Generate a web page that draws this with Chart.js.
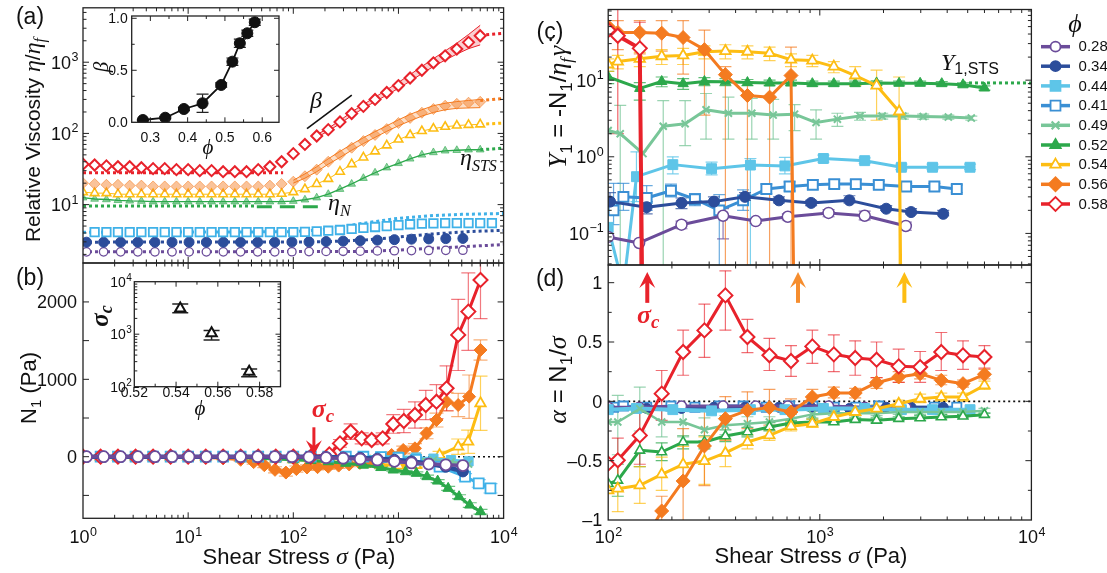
<!DOCTYPE html>
<html><head><meta charset="utf-8"><title>Viscosity and normal stress</title>
<script src="https://cdn.jsdelivr.net/npm/chart.js@4.4.1/dist/chart.umd.min.js"></script>
<style>
html,body{margin:0;padding:0;background:#fff;overflow:hidden;}
#wrap{position:relative;width:1107px;height:573px;background:#fff;}
#wrap canvas{position:absolute;left:0;top:0;}
</style></head>
<body><div id="wrap">
<canvas id="cA" width="1107" height="573"></canvas>
<canvas id="cIA" width="1107" height="573"></canvas>
<canvas id="cB" width="1107" height="573"></canvas>
<canvas id="cIB" width="1107" height="573"></canvas>
<canvas id="cC" width="1107" height="573"></canvas>
<canvas id="cD" width="1107" height="573"></canvas>
</div>
<script>
// ================= DATA =================
const phiLabels = ['0.28','0.34','0.44','0.41','0.49','0.52','0.54','0.56','0.58'];

// ---- Panel (a): relative viscosity vs shear stress ----
const stressA = [1,1.29,1.67,2.15,2.78,3.59,4.64,5.99,7.74,10,12.9,16.7,21.5,27.8,35.9,46.4,59.9,77.4,100,129,167,215,278,359,464,599,774,1000,1290,1670,2150,2780,3590,4640,5990,7740];
const etaA058 = [37,36,35,34,34,33,32,32,31,31,30,30,29,29,29,31,34,40,52,70,92,113,145,190,240,300,375,470,600,770,980,1230,1530,1900,2350];
const etaA056 = [20,19.5,19,19,18.5,18.5,18,18,18,18,18,18,18,18,18,18,18.5,19.5,21,25,31,40,50,63,78,95,115,140,165,195,220,245,260,270,278];
const etaA054 = [15,14.5,14.5,14,14,14,14,14,14,14,14,14,14,14,14,14,14,14.2,15,16.5,19.5,23,29,37,46,56,68,82,95,108,117,124,129,132,134];
const etaA052 = [12.5,12,11.8,11.5,11.3,11.2,11,11,11,11,11,11,11,11,11,11,11,11,11.2,11.7,12.5,14,16.5,19.5,23.5,28,33,38,44,50,54,57,58,59,59];
const etaA041 = [null,4.1,4.1,4.1,4.1,4.1,4.1,4.1,4.1,4.1,4.1,4.1,4.1,4.1,4.1,4.1,4.1,4.1,4.1,4.15,4.2,4.3,4.4,4.55,4.7,4.85,5.0,5.15,5.3,5.4,5.45,5.5,5.5,5.5,5.5,5.5];
const stressA6 = [1.08,1.57,2.28,3.32,4.83,7.03,10.2,14.9,21.6,31.5,45.8,66.6,97,141,205,298,433,630,915,1330,1940,2820,4100];
const etaA034 = [2.97,2.97,2.97,2.97,2.97,2.97,2.97,2.97,2.97,2.97,2.97,2.97,2.98,3.0,3.03,3.07,3.12,3.17,3.22,3.27,3.3,3.33,3.35];
const etaA028 = [2.17,2.17,2.17,2.17,2.17,2.17,2.17,2.17,2.17,2.17,2.17,2.17,2.18,2.19,2.2,2.21,2.22,2.24,2.25,2.26,2.27,2.28,2.29];
const bandX058 = [167,215,278,359,464,599,774,1000,1290,1670,2150,2780,3590,4640,5990];
const band058Lo = [88,108,137,178,225,280,345,430,540,690,870,1070,1300,1550,1750];
const band058Hi = [96,118,152,200,255,322,410,520,670,870,1120,1440,1850,2450,3300];
const bandX056 = [100,129,167,215,278,359,464,599,774,1000,1290,1670,2150,2780,3590,4640,5990];
const band056Lo = [20,23.5,29,37,46,58,72,88,107,128,150,175,197,215,225,228,230];
const band056Hi = [22,27,34,44,56,70,87,106,128,155,185,215,245,265,280,290,300];
const modelLowX058 = [1,80], modelLowY058 = [28,28];
const stsX = [5990,10000];
const stsY058 = [2400,2550], stsY056 = [290,310], stsY054 = [134,140], stsY052 = [59,62];
const modelLowX052 = [1,45], modelLowY052 = [9.6,9.6];
const etaNX = [45,193], etaNY = [9.3,9.3];
const modelX041 = [1,100,200,400,900,2000,4000,10000], modelY041 = [4.1,4.15,4.5,5.3,6.3,7.0,7.3,7.5];
const modelX034 = [1,200,500,1000,2000,5000,10000], modelY034 = [2.97,3.0,3.2,3.5,3.85,4.2,4.35];
const modelX028 = [1,500,1000,3000,10000], modelY028 = [2.17,2.2,2.3,2.5,2.75];
const betaSlopeX = [135,360], betaSlopeY = [117,346];
// inset (a): beta vs phi
const phiBeta = [0.28,0.34,0.39,0.44,0.49,0.52,0.54,0.56,0.58];
const betaVal = [0.022,0.044,0.128,0.183,0.359,0.583,0.76,0.856,0.962];
const betaErr = [0.005,0.01,0.015,0.087,0.02,0.035,0.04,0.03,0.03];

// ---- Panel (b): N1 vs shear stress ----
const gridB = [1,1.47,2.15,3.16,4.64,6.81,10,14.7,21.5,31.6,46.4,68.1,100,147,215,316,464,681,1000,1470,2150,3160,4640];
const N1b028 = [0,0,0,0,0,0,0,0,0,0,0,0,0,-5,-12,-20,-30,-42,-60,-80,-95,-105,-115];
const N1b034 = [0,0,0,0,0,0,0,0,0,0,0,0,0,0,-5,-10,-15,-25,-40,-60,-90,-130,-190];
const N1b044 = [0,0,0,0,0,0,0,0,0,0,0,0,0,0,0,0,0,0,0,-10,-25,-45,-60];
const N1b049 = [0,0,0,0,0,0,0,0,0,0,0,0,0,0,0,0,0,0,-10,-25,-45,-70,-95];
const xB041 = [1,1.47,2.15,3.16,4.64,6.81,10,14.7,21.5,31.6,46.4,68.1,100,147,215,316,464,681,1000,1470,2460,4300,5800,7500];
const N1b041 = [0,0,0,0,0,0,0,0,0,0,0,0,0,0,0,0,0,-5,-15,-40,-129,-258,-345,-409];
const errB041 = [0,0,0,0,0,0,0,0,0,0,0,0,0,0,0,0,0,0,15,20,30,40,50,60];
const xB052 = [1,1.47,2.15,3.16,4.64,6.81,10,14.7,21.5,31.6,46.4,68.1,100,147,215,316,464,681,893,1170,1480,1870,2360,2970,3770,4770,6030];
const N1b052 = [0,0,0,0,0,0,0,0,-5,-10,-20,-30,-40,-50,-65,-85,-110,-140,-172,-194,-215,-258,-315,-409,-517,-625,-711];
const errB052 = [0,0,0,0,0,0,0,0,0,0,0,0,0,0,10,10,15,15,15,15,20,20,20,25,25,30,30];
const xB054 = [1,1.47,2.15,3.16,4.64,6.81,10,14.7,21.5,31.6,46.4,68.1,100,147,215,316,464,681,1000,1470,2460,3700,4600,6030];
const N1b054 = [0,0,0,0,0,0,0,0,0,0,-10,-20,-35,-50,-65,-80,-95,-105,-115,-110,20,129,194,690];
const errB054 = [0,0,0,0,0,0,0,0,0,0,0,0,15,20,25,25,25,25,25,25,50,100,150,350];
const xB056 = [1,1.47,2.15,3.16,4.64,6.81,10,14.7,21.5,31.6,42,53,67,85,107,135,170,215,270,340,430,540,680,861,1110,1435,1850,2300,2870,3700,4700,6030];
const N1b056 = [0,0,0,0,0,0,0,-10,-20,-40,-70,-110,-170,-205,-160,-140,-135,-130,-115,-100,-80,-60,-35,22,87,108,302,474,711,668,776,1379];
const errB056 = [0,0,0,0,0,0,0,10,15,20,25,30,40,45,40,35,35,35,35,30,30,30,30,40,50,60,70,90,120,150,280,130];
const xB058 = [1,1.47,2.15,3.16,4.64,6.81,10,14.7,21.5,31.6,46.4,68.1,100,147,220,278,351,447,556,708,893,1125,1435,1820,2300,2870,3700,4620,6030];
const N1b058 = [0,0,0,0,0,0,0,0,0,0,0,0,0,0,30,172,323,237,216,237,423,461,539,668,711,884,1574,1875,2284];
const errB058 = [0,0,0,0,0,0,0,0,0,0,0,0,0,0,30,50,100,70,60,70,120,150,170,190,220,290,460,500,500];
const sigmaCArrowX = [157];
// inset (b): sigma_c vs phi
const phiSigC = [0.542,0.557,0.575];
const sigC = [3100,1040,193];
const sigCLo = [2570,775,155];
const sigCHi = [3760,1170,217];

// ---- Panel (c): Upsilon1 vs shear stress ----
const xC058 = [100,111,141,150], yC058 = [45,38,26,1e-6];
const loC058 = [null,2.0,1e-6,null], hiC058 = [null,90,57,null];
const xC056 = [100,111,141,179,226,285,358,455,579,731,790];
const yC056 = [50,42,42,41,36,25,11.8,6.3,6.0,11.5,1e-6];
const loC056 = [null,25,22,24,12,3.5,1e-6,1e-6,1e-6,1e-6,null];
const hiC056 = [null,60,60,60,60,45,15,9.5,9,27,null];
const xC054 = [100,111,141,179,226,285,358,455,579,731,922,1165,1470,1855,2370,2500];
const yC054 = [16,17.5,19,20.5,21,23.5,24,23.5,22.5,18.5,18,15,11.5,8.5,3.9,1e-6];
const loC054 = [13,14,15,16,16,19,19,19,18,15,15,12.5,8.5,3,1e-6,null];
const hiC054 = [19,21,23,25,26,28,29,28,27,22,21,17.5,15,13.5,11,null];
const xC052 = [100,141,179,226,285,358,455,579,731,922,1165,1470,1855,2370,2980,3770,4750,6000];
const yC052 = [11,7.8,9.6,9.0,9.6,9.5,9.3,9.2,9.2,9.0,9.0,9.0,9.2,9.1,9.1,9.0,8.7,7.9];
const loC052 = [9,5.5,8.2,7.6,8.5,8.5,8.5,8.5,8.5,8.4,8.4,8.4,8.6,8.6,8.6,8.5,8.2,7.4];
const hiC052 = [13,9.3,11,10.5,10.8,10.5,10.2,10,10,9.7,9.7,9.7,9.8,9.7,9.7,9.6,9.2,8.4];
const stsXC = [4750,10000], stsYC052 = [9.2,9.2];
const xC049 = [100,114,146,182,231,290,370,477,602,760,960,1211,1549,1972,2469,3080,4050,5200];
const yC049 = [2.2,2.0,1.1,2.5,2.7,4.1,3.7,3.7,3.5,3.6,2.8,3.1,3.4,3.4,3.4,3.35,3.3,3.2];
const loC049 = [null,1e-6,null,1e-6,1.4,1.7,1.7,1.7,1.7,2.2,1.7,2.5,3.0,3.1,3.1,3.1,3.1,3.0];
const hiC049 = [null,4.7,null,5.4,5.4,6.7,6.0,5.8,5.6,4.8,4.1,3.7,3.8,3.7,3.7,3.6,3.5,3.4];
const xC044 = [100,118,136,202,308,470,684,1040,1630,2430,3410,5130];
const yC044 = [0.12,0.02,0.55,0.79,0.70,0.78,0.76,0.95,0.89,0.73,0.73,0.73];
const loC044 = [null,null,0.26,0.6,0.58,1e-6,0.6,0.85,0.82,0.68,0.68,0.68];
const hiC044 = [null,null,1.16,1.0,0.85,0.95,0.98,1.05,0.97,0.8,0.8,0.8];
const xC041 = [106,118,152,198,257,335,434,559,720,927,1170,1480,1900,2560,3480,4440];
const yC041 = [0.2,0.30,0.29,0.36,0.28,0.20,0.27,0.38,0.41,0.43,0.44,0.44,0.43,0.41,0.41,0.38];
const loC041 = [0.13,0.2,0.2,0.3,0.23,1e-6,0.2,0.33,0.36,0.38,0.39,0.39,0.39,0.37,0.37,0.34];
const hiC041 = [0.45,0.45,0.42,0.44,0.33,0.32,0.37,0.44,0.47,0.5,0.5,0.5,0.48,0.45,0.45,0.43];
const xC034 = [102,152,222,316,443,641,910,1380,2060,2700,3830];
const yC034 = [0.26,0.22,0.25,0.26,0.30,0.27,0.25,0.27,0.21,0.19,0.18];
const loC034 = [0.18,0.18,0.21,0.23,0.27,0.25,0.23,0.25,0.2,0.18,0.17];
const hiC034 = [0.34,0.26,0.29,0.3,0.34,0.3,0.27,0.31,0.23,0.21,0.2];
const xC028 = [100,140,222,349,498,706,1100,1630,2550];
const yC028 = [0.09,0.075,0.13,0.17,0.145,0.165,0.185,0.17,0.125];
const loC028 = [null,null,0.115,0.085,0.135,0.15,0.165,0.15,0.11];
const hiC028 = [null,null,0.145,0.21,0.155,0.18,0.205,0.195,0.14];

// ---- Panel (d): alpha = N1/sigma ----
const xD = [100,111,141,179,226,285,358,455,578,731,922,1165,1470,1855,2360,2980,3750,4750,6000];
const yD058 = [-0.525,-0.497,-0.287,0.065,0.416,0.598,0.893,0.542,0.388,0.34,0.463,0.396,0.365,0.351,0.295,0.289,0.416,0.388,0.374];
const loD058 = [null,-0.75,-0.53,-0.16,0.22,0.37,0.6,0.41,0.26,0.21,0.32,0.25,0.22,0.2,0.16,0.16,0.26,0.27,0.28];
const hiD058 = [null,-0.31,-0.05,0.26,0.6,0.82,1.1,0.69,0.53,0.47,0.6,0.56,0.51,0.5,0.44,0.42,0.58,0.51,0.47];
const xD056 = [141,179,226,285,358,455,578,731,922,1165,1470,1855,2360,2980,3750,4750,6000];
const yD056 = [-1.25,-0.924,-0.671,-0.376,-0.146,-0.076,-0.053,-0.09,0.037,0.07,0.07,0.157,0.205,0.233,0.177,0.149,0.228];
const loD056 = [null,-1.05,-1.2,-0.71,-0.33,-0.23,-0.2,-0.2,-0.02,0.03,0.03,0.11,0.16,0.19,0.14,0.12,0.19];
const hiD056 = [null,-0.8,-0.23,-0.05,0.04,0.08,0.1,0.02,0.1,0.12,0.11,0.2,0.25,0.27,0.22,0.18,0.27];
const yD054 = [-0.75,-0.736,-0.708,-0.615,-0.531,-0.503,-0.435,-0.343,-0.287,-0.211,-0.188,-0.132,-0.09,-0.062,-0.02,0.022,0.037,0.037,0.135];
const loD054 = [null,-0.93,-0.86,-0.75,-0.68,-0.7,-0.55,-0.4,-0.33,-0.25,-0.22,-0.16,-0.12,-0.09,-0.05,-0.01,0.0,0.0,0.1];
const hiD054 = [null,-0.5,-0.55,-0.47,-0.38,-0.3,-0.32,-0.28,-0.24,-0.17,-0.15,-0.1,-0.06,-0.03,0.01,0.06,0.07,0.07,0.17];
const yD052 = [-0.694,-0.666,-0.413,-0.427,-0.343,-0.343,-0.292,-0.258,-0.216,-0.183,-0.174,-0.174,-0.154,-0.16,-0.146,-0.14,-0.132,-0.126,-0.112];
const loD052 = [null,-0.8,-0.55,-0.5,-0.4,-0.4,-0.34,-0.3,-0.25,-0.21,-0.2,-0.19,-0.17,-0.18,-0.16,-0.16,-0.15,-0.14,-0.13];
const hiD052 = [null,-0.53,-0.28,-0.35,-0.29,-0.29,-0.24,-0.22,-0.18,-0.16,-0.15,-0.16,-0.14,-0.14,-0.13,-0.12,-0.11,-0.11,-0.1];
const yD049 = [-0.174,-0.174,-0.062,-0.174,-0.174,-0.239,-0.202,-0.188,-0.174,-0.146,-0.11,-0.1,-0.1,-0.1,-0.09,-0.09,-0.09,-0.09,-0.08];
const loD049 = [null,-0.45,-0.25,-0.3,-0.3,-0.33,-0.28,-0.25,-0.22,-0.18,-0.14,-0.12,-0.12,-0.12,-0.11,-0.11,-0.11,-0.11,-0.1];
const hiD049 = [null,0.05,0.12,-0.05,-0.05,-0.14,-0.12,-0.13,-0.13,-0.11,-0.08,-0.08,-0.08,-0.08,-0.07,-0.07,-0.07,-0.07,-0.06];
const yD044 = [-0.07,-0.06,-0.07,-0.08,-0.07,-0.07,-0.06,-0.06,-0.07,-0.07,-0.07];
const xD044 = [100,136,202,308,470,684,1040,1630,2430,3410,5130];
const yD041 = [-0.05,-0.04,-0.05,-0.04,-0.05,-0.04,-0.04,-0.05,-0.04,-0.04,-0.05,-0.05,-0.04,-0.05,-0.05,-0.05];
const yD034 = [-0.06,-0.06,-0.06,-0.05,-0.05,-0.05,-0.05,-0.06,-0.05,-0.05,-0.05];
const yD028 = [-0.05,-0.05,-0.04,-0.04,-0.04,-0.04,-0.04,-0.05,-0.05];
const sigmaCMarksX = [153,789,2510];

// ================= STYLE / HELPERS =================
const W = 1107, H = 573;
const SANS = '"Liberation Sans", Arial, Helvetica, sans-serif';
const SERIF = '"Liberation Serif", "DejaVu Serif", "Times New Roman", Times, serif';
const PHI = '\u03d5';
const F = (sz, fam, st) => ((st ? st + ' ' : '') + sz + 'px ' + (fam || SANS));
const COL = {p028:'#6b4c9a', p034:'#2c4d9b', p044:'#5ec5e8', p041:'#3a8fd4', p049:'#78c698',
  p052:'#2ca84b', p054:'#fdbd13', p056:'#f47b20', p058:'#e8222b', a041:'#3fb1e8', arrowO:'#f68d2e'};
function rgba(hex, a){ const n = parseInt(hex.slice(1),16); return 'rgba('+(n>>16)+','+((n>>8)&255)+','+(n&255)+','+a+')'; }
function lin(c,x1,y1,x2,y2){ c.beginPath(); c.moveTo(x1,y1); c.lineTo(x2,y2); c.stroke(); }
function logMinors(lo, hi){ const out=[]; for(let d=Math.floor(Math.log10(lo)); d<=Math.ceil(Math.log10(hi)); d++){ for(let k=2;k<=9;k++){ const v=k*Math.pow(10,d); if(v>lo && v<hi) out.push(v);} } return out; }
function pts(xs, ys){ const o=[]; const n=Math.min(xs.length, ys.length); for(let i=0;i<n;i++){ if(ys[i]!==null) o.push({x:xs[i], y:ys[i]}); } return o; }
function S(xs, ys, o){
  const d = {data: pts(xs, ys), showLine: o.line !== false, tension: 0,
    borderColor: o.lc || o.c, borderWidth: (o.lw == null ? 3 : o.lw), borderDash: o.dash || [],
    borderCapStyle: 'butt', borderJoinStyle: 'round',
    pointStyle: o.ps || 'circle', pointRadius: (o.r == null ? 0 : o.r),
    pointBackgroundColor: o.open ? '#ffffff' : (o.fc || o.c),
    pointBorderColor: o.pc || o.c, pointBorderWidth: (o.bw == null ? 1.5 : o.bw),
    fill: (o.fill == null ? false : o.fill), backgroundColor: o.bg || 'rgba(0,0,0,0)'};
  if (o.eb) d.eb = Object.assign({xs: xs, ys: ys}, o.eb);
  return d;
}
function drawLabel(ctx, lab, x, ym, align, fs, ss){
  const base = typeof lab === 'string' ? lab : lab.b;
  const exp = typeof lab === 'string' ? '' : lab.e;
  ctx.font = F(fs); const wb = ctx.measureText(base).width;
  ctx.font = F(ss); const we = exp ? ctx.measureText(exp).width : 0;
  const tw = wb + we;
  const sx = align === 'center' ? x - tw/2 : (align === 'right' ? x - tw : x);
  const bl = ym + fs * 0.36;
  ctx.textAlign = 'left'; ctx.textBaseline = 'alphabetic';
  ctx.font = F(fs); ctx.fillText(base, sx, bl);
  if (exp) { ctx.font = F(ss); ctx.fillText(exp, sx + wb + 0.5, bl - fs * 0.42); }
}
function rich(ctx, segs, x, y, opt){
  opt = opt || {};
  ctx.save(); ctx.translate(x, y); if (opt.rot) ctx.rotate(opt.rot);
  let tw = 0; const ws = [];
  segs.forEach(s => { ctx.font = s.f; const w = ctx.measureText(s.t).width + (s.sp || 0); ws.push(w); tw += w; });
  let cx = opt.align === 'left' ? 0 : (opt.align === 'right' ? -tw : -tw/2);
  ctx.textAlign = 'left'; ctx.textBaseline = 'alphabetic';
  segs.forEach((s, i) => { ctx.font = s.f; ctx.fillStyle = s.c || opt.color || '#111'; ctx.fillText(s.t, cx, (opt.base || 0) + (s.dy || 0)); cx += ws[i]; });
  ctx.restore();
}
function arrowV(ctx, x, yTail, yHead, color, lw, hl, hw){
  const dir = Math.sign(yHead - yTail);
  ctx.save(); ctx.strokeStyle = color; ctx.fillStyle = color; ctx.lineWidth = lw;
  lin(ctx, x, yTail, x, yHead - dir * hl * 0.5);
  ctx.beginPath(); ctx.moveTo(x, yHead); ctx.lineTo(x - hw, yHead - dir * hl);
  ctx.lineTo(x, yHead - dir * hl * 0.6); ctx.lineTo(x + hw, yHead - dir * hl); ctx.closePath(); ctx.fill();
  ctx.restore();
}

const errPlugin = {
  id: 'errbars',
  beforeDatasetsDraw(chart){
    const ctx = chart.ctx, a = chart.chartArea, sx = chart.scales.x, sy = chart.scales.y;
    ctx.save();
    ctx.beginPath(); ctx.rect(a.left, a.top, a.right - a.left, a.bottom - a.top); ctx.clip();
    chart.data.datasets.forEach(ds => {
      const e = ds.eb; if (!e) return;
      ctx.strokeStyle = e.color; ctx.lineWidth = e.w || 1.2;
      for (let i = 0; i < e.xs.length; i++){
        let l, h;
        if (e.err){ if (!e.err[i]) continue; l = e.ys[i] - e.err[i]; h = e.ys[i] + e.err[i]; }
        else { if (e.lo[i] == null) continue; l = e.lo[i]; h = e.hi[i]; }
        const px = sx.getPixelForValue(e.xs[i]);
        const pl = sy.getPixelForValue(l), ph = sy.getPixelForValue(h);
        lin(ctx, px, pl, px, ph);
        const cw = e.cap == null ? 6 : e.cap;
        if (cw > 0){ lin(ctx, px - cw, pl, px + cw, pl); lin(ctx, px - cw, ph, px + cw, ph); }
      }
    });
    ctx.restore();
  }
};

function frameAxes(conf){
  return {
    id: 'frameAxes',
    beforeDraw(chart){
      if (conf.bg){ const a = chart.chartArea, c = chart.ctx; c.save(); c.fillStyle = '#fff'; c.fillRect(a.left, a.top, a.right - a.left, a.bottom - a.top); c.restore(); }
    },
    afterDraw(chart){
      const ctx = chart.ctx, a = chart.chartArea, xs = chart.scales.x, ys = chart.scales.y;
      ctx.save();
      ctx.strokeStyle = '#222'; ctx.lineWidth = conf.frameW || 1.3;
      ctx.strokeRect(a.left, a.top, a.right - a.left, a.bottom - a.top);
      const ML = conf.majorLen || 6, mL = conf.minorLen || 3.5;
      ctx.lineWidth = 1;
      const inX = v => v > xs.min && v < xs.max, inY = v => v > ys.min && v < ys.max;
      (conf.x.major || []).forEach(v => { if (!inX(v)) return; const p = xs.getPixelForValue(v); lin(ctx,p,a.bottom,p,a.bottom-ML); lin(ctx,p,a.top,p,a.top+ML); });
      (conf.x.minor || []).forEach(v => { if (!inX(v)) return; const p = xs.getPixelForValue(v); lin(ctx,p,a.bottom,p,a.bottom-mL); lin(ctx,p,a.top,p,a.top+mL); });
      (conf.y.major || []).forEach(v => { if (!inY(v)) return; const p = ys.getPixelForValue(v); lin(ctx,a.left,p,a.left+ML,p); lin(ctx,a.right,p,a.right-ML,p); });
      (conf.y.minor || []).forEach(v => { if (!inY(v)) return; const p = ys.getPixelForValue(v); lin(ctx,a.left,p,a.left+mL,p); lin(ctx,a.right,p,a.right-mL,p); });
      ctx.fillStyle = '#111';
      const fs = conf.font || 18, ss = conf.sup || 12.5;
      (conf.x.labels || []).forEach(l => drawLabel(ctx, l[1], xs.getPixelForValue(l[0]), conf.x.labelY, 'center', fs, ss));
      (conf.y.labels || []).forEach(l => drawLabel(ctx, l[1], a.left - (conf.y.gap || 5), ys.getPixelForValue(l[0]), 'right', fs, ss));
      ctx.restore();
      if (conf.over){ ctx.save(); conf.over(chart, ctx); ctx.restore(); }
    }
  };
}

function mk(id, area, sx, sy, datasets, conf){
  datasets.forEach((d, i) => { d.order = datasets.length - i; });
  return new Chart(document.getElementById(id), {
    type: 'scatter',
    data: {datasets: datasets},
    options: {
      responsive: false, animation: false, devicePixelRatio: 1, events: [],
      layout: {padding: {left: area.l, top: area.t, right: W - area.r, bottom: H - area.b}},
      plugins: {legend: {display: false}, tooltip: {enabled: false}},
      scales: {x: Object.assign({display: false}, sx), y: Object.assign({display: false}, sy)}
    },
    plugins: [errPlugin, frameAxes(conf)]
  });
}
const L10 = e => ({b: '10', e: e});
const xLogA = {type: 'logarithmic', min: 1, max: 10000};
const xLogC = {type: 'logarithmic', min: 100, max: 10000};

// ================= PANEL (a) =================
const yLogA = {type: 'logarithmic', min: 1.514, max: 5808};
mk('cA', {l: 83, r: 503.6, t: 5, b: 263}, xLogA, yLogA, [
  S(bandX058, band058Lo, {c: COL.p058, lw: 1}),
  S(bandX058, band058Hi, {c: COL.p058, lw: 1, fill: '-1', bg: rgba(COL.p058, 0.22)}),
  S(bandX056, band056Lo, {c: COL.p056, lw: 1}),
  S(bandX056, band056Hi, {c: COL.p056, lw: 1, fill: '-1', bg: rgba(COL.p056, 0.25)}),
  S(modelX041, modelY041, {c: COL.a041, lw: 3, dash: [3, 3]}),
  S(modelX034, modelY034, {c: COL.p034, lw: 3, dash: [3, 3]}),
  S(modelX028, modelY028, {c: COL.p028, lw: 3, dash: [3, 3]}),
  S(modelLowX058, modelLowY058, {c: COL.p058, lw: 3, dash: [3, 3]}),
  S(modelLowX052, modelLowY052, {c: COL.p052, lw: 3, dash: [3, 3]}),
  S(stsX, stsY058, {c: COL.p058, lw: 3, dash: [3, 3]}),
  S(stsX, stsY056, {c: COL.p056, lw: 3, dash: [3, 3]}),
  S(stsX, stsY054, {c: COL.p054, lw: 3, dash: [3, 3]}),
  S(stsX, stsY052, {c: COL.p052, lw: 3, dash: [3, 3]}),
  S(etaNX, etaNY, {c: COL.p052, lw: 3, dash: [15, 8]}),
  S(betaSlopeX, betaSlopeY, {c: '#111', lw: 1.6}),
  S(stressA6, etaA028, {c: COL.p028, line: false, ps: 'circle', r: 4.2, open: true, bw: 1.3}),
  S(stressA6, etaA034, {c: COL.p034, line: false, ps: 'circle', r: 5, bw: 1}),
  S(stressA, etaA041, {c: COL.a041, line: false, ps: 'rect', r: 6, open: true, bw: 1.8}),
  S(stressA, etaA052, {c: COL.p052, lc: COL.p052, lw: 1.3, ps: 'triangle', r: 4.5, fc: rgba(COL.p052, 0.5), pc: rgba(COL.p052, 0.6), bw: 1}),
  S(stressA, etaA054, {c: COL.p054, lw: 1, ps: 'triangle', r: 5, open: true, bw: 1.6}),
  S(stressA, etaA056, {c: COL.p056, line: false, ps: 'rectRot', r: 5.5, fc: rgba(COL.p056, 0.45), pc: rgba(COL.p056, 0.55), bw: 1}),
  S(stressA, etaA058, {c: COL.p058, line: false, ps: 'rectRot', r: 5.5, open: true, bw: 2})
], {
  x: {major: [1, 10, 100, 1000, 10000], minor: logMinors(1, 10000)},
  y: {major: [10, 100, 1000], minor: logMinors(1.514, 5808), labels: [[10, L10('1')], [100, L10('2')], [1000, L10('3')]], gap: 5},
  over(chart, ctx){
    ctx.fillStyle = '#111';
    rich(ctx, [{t: '(a)', f: F(23)}], 30, 24, {});
    rich(ctx, [{t: 'Relative Viscosity ', f: F(21)}, {t: '\u03b7', f: F(24, SERIF, 'italic')}, {t: '/', f: F(21)}, {t: '\u03b7', f: F(24, SERIF, 'italic')}, {t: 'f', f: F(16, SERIF, 'italic'), dy: 5}], 32, 140, {rot: -Math.PI/2, base: 7.5});
    rich(ctx, [{t: '\u03b2', f: F(24, SERIF, 'italic')}], 316, 108, {});
    rich(ctx, [{t: '\u03b7', f: F(24, SERIF, 'italic')}, {t: 'N', f: F(16, SERIF, 'italic'), dy: 6}], 328, 210, {align: 'left'});
    rich(ctx, [{t: '\u03b7', f: F(24, SERIF, 'italic')}, {t: 'STS', f: F(16, SERIF, 'italic'), dy: 6}], 460, 165, {align: 'left'});
  }
});

// ---- inset (a) ----
mk('cIA', {l: 131.7, r: 279, t: 16, b: 122.3}, {type: 'linear', min: 0.25, max: 0.645}, {type: 'linear', min: 0, max: 1.022}, [
  S(phiBeta, betaVal, {c: '#111', lw: 1.8, ps: 'circle', r: 5.5, bw: 1, eb: {err: betaErr, color: '#222', w: 1.2, cap: 6}})
], {
  bg: true, font: 14, majorLen: 5, minorLen: 3,
  x: {major: [0.3, 0.4, 0.5, 0.6], minor: [0.35, 0.45, 0.55], labels: [[0.3, '0.3'], [0.4, '0.4'], [0.5, '0.5'], [0.6, '0.6']], labelY: 137},
  y: {major: [0, 0.5, 1.0], minor: [0.25, 0.75], labels: [[0, '0.0'], [0.5, '0.5'], [1.0, '1.0']], gap: 4},
  over(chart, ctx){
    rich(ctx, [{t: '\u03b2', f: F(21, SERIF, 'italic')}], 101, 67, {rot: -Math.PI/2, base: 7});
    rich(ctx, [{t: PHI, f: F(21, SERIF, 'italic')}], 208, 154, {});
  }
});

// ================= PANEL (b) =================
mk('cB', {l: 83, r: 503.6, t: 263, b: 518.3}, xLogA, {type: 'linear', min: -796, max: 2503}, [
  S([1, 10000], [0, 0], {c: '#111', lw: 1.6, dash: [2, 3]}),
  S(xB054, N1b054, {c: COL.p054, lw: 3, ps: 'triangle', r: 6, open: true, bw: 1.8, eb: {err: errB054, color: rgba(COL.p054, 0.7), cap: 7}}),
  S(xB056, N1b056, {c: COL.p056, lw: 3, ps: 'rectRot', r: 6.5, bw: 1, eb: {err: errB056, color: rgba(COL.p056, 0.6), cap: 7}}),
  S(xB052, N1b052, {c: COL.p052, lw: 3, ps: 'triangle', r: 6, bw: 1, eb: {err: errB052, color: rgba(COL.p052, 0.7), cap: 7}}),
  S(gridB, N1b044, {c: COL.p044, lw: 3, ps: 'rect', r: 6.5, bw: 1}),
  S(gridB, N1b049, {c: COL.p049, lw: 3, ps: 'crossRot', r: 5, bw: 2}),
  S(xB041, N1b041, {c: COL.a041, lw: 3, ps: 'rect', r: 7, open: true, bw: 1.8, eb: {err: errB041, color: rgba(COL.a041, 0.7), cap: 7}}),
  S(xB058, N1b058, {c: COL.p058, lw: 3, ps: 'rectRot', r: 7, open: true, bw: 2, eb: {err: errB058, color: rgba(COL.p058, 0.6), cap: 7}}),
  S(stressA6, N1b034, {c: COL.p034, lw: 4.5, ps: 'circle', r: 5.5, bw: 1}),
  S(stressA6, N1b028, {c: COL.p028, lw: 3.5, ps: 'circle', r: 5.5, open: true, bw: 1.8})
], {
  x: {major: [1, 10, 100, 1000, 10000], minor: logMinors(1, 10000), labels: [[1, L10('0')], [10, L10('1')], [100, L10('2')], [1000, L10('3')], [10000, L10('4')]], labelY: 537},
  y: {major: [-500, 0, 500, 1000, 1500, 2000], labels: [[0, '0'], [1000, '1000'], [2000, '2000']], gap: 6},
  over(chart, ctx){
    rich(ctx, [{t: '(b)', f: F(23)}], 30, 285, {});
    rich(ctx, [{t: 'N', f: F(22)}, {t: '1', f: F(15), dy: 5}, {t: ' (Pa)', f: F(22)}], 28, 388, {rot: -Math.PI/2, base: 8});
    rich(ctx, [{t: 'Shear Stress ', f: F(22)}, {t: '\u03c3', f: F(24, SERIF, 'italic')}, {t: ' (Pa)', f: F(22)}], 299, 564, {});
    const xs = chart.scales.x, ys = chart.scales.y;
    const ax = xs.getPixelForValue(sigmaCArrowX[0]);
    arrowV(ctx, ax, ys.getPixelForValue(380), ys.getPixelForValue(20), COL.p058, 3, 15, 8);
    rich(ctx, [{t: '\u03c3', f: F(26, SERIF, 'bold italic'), c: COL.p058}, {t: 'c', f: F(19, SERIF, 'bold italic'), dy: 5, c: COL.p058}], ax + 9, 417, {});
  }
});

// ---- inset (b) ----
mk('cIB', {l: 134.3, r: 280.5, t: 281.7, b: 386.7}, {type: 'linear', min: 0.52, max: 0.59}, {type: 'logarithmic', min: 100, max: 10000}, [
  S(phiSigC, sigC, {c: '#111', line: false, ps: 'triangle', r: 6, open: true, bw: 2, eb: {lo: sigCLo, hi: sigCHi, color: '#222', w: 1.5, cap: 8}})
], {
  bg: true, font: 14, sup: 10, majorLen: 5, minorLen: 3,
  x: {major: [0.52, 0.54, 0.56, 0.58], minor: [0.53, 0.55, 0.57], labels: [[0.52, '0.52'], [0.54, '0.54'], [0.56, '0.56'], [0.58, '0.58']], labelY: 392},
  y: {major: [100, 1000, 10000], minor: logMinors(100, 10000), labels: [[100, L10('2')], [1000, L10('3')], [10000, L10('4')]], gap: 3},
  over(chart, ctx){
    rich(ctx, [{t: '\u03c3', f: F(25, SERIF, 'bold italic')}, {t: 'c', f: F(18, SERIF, 'bold italic'), dy: 4}], 101, 316, {rot: -Math.PI/2, base: 7});
    rich(ctx, [{t: PHI, f: F(21, SERIF, 'italic')}], 200, 415, {});
  }
});

// ================= PANEL (c) =================
const yLogC = {type: 'logarithmic', min: 0.0387, max: 83.6};
const legendRows = [
  {c: COL.p028, ps: 'circle', r: 5, open: true},
  {c: COL.p034, ps: 'circle', r: 5},
  {c: COL.p044, ps: 'rect', r: 7},
  {c: COL.p041, ps: 'rect', r: 7, open: true},
  {c: COL.p049, ps: 'crossRot', r: 5.5},
  {c: COL.p052, ps: 'triangle', r: 6},
  {c: COL.p054, ps: 'triangle', r: 6, open: true},
  {c: COL.p056, ps: 'rectRot', r: 7},
  {c: COL.p058, ps: 'rectRot', r: 7, open: true}
];
mk('cC', {l: 608.2, r: 1031.4, t: 9.5, b: 265}, xLogC, yLogC, [
  S(stsXC, stsYC052, {c: COL.p052, lw: 3, dash: [3, 3]}),
  S(xC049, yC049, {c: COL.p049, lw: 3, ps: 'crossRot', r: 5, bw: 2, eb: {lo: loC049, hi: hiC049, color: rgba(COL.p049, 0.75)}}),
  S(xC044, yC044, {c: COL.p044, lw: 3, ps: 'rect', r: 7, bw: 1, eb: {lo: loC044, hi: hiC044, color: rgba(COL.p044, 0.8)}}),
  S(xC041, yC041, {c: COL.p041, lw: 3, ps: 'rect', r: 7, open: true, bw: 2, eb: {lo: loC041, hi: hiC041, color: rgba(COL.p041, 0.75)}}),
  S(xC034, yC034, {c: COL.p034, lw: 3, ps: 'circle', r: 5.5, bw: 1, eb: {lo: loC034, hi: hiC034, color: rgba(COL.p034, 0.75)}}),
  S(xC028, yC028, {c: COL.p028, lw: 3, ps: 'circle', r: 5.5, open: true, bw: 1.5, eb: {lo: loC028, hi: hiC028, color: rgba(COL.p028, 0.75)}}),
  S(xC052, yC052, {c: COL.p052, lw: 3, ps: 'triangle', r: 6, bw: 1, eb: {lo: loC052, hi: hiC052, color: rgba(COL.p052, 0.75)}}),
  S(xC054, yC054, {c: COL.p054, lw: 3, ps: 'triangle', r: 6, open: true, bw: 1.8, eb: {lo: loC054, hi: hiC054, color: rgba(COL.p054, 0.7)}}),
  S(xC056, yC056, {c: COL.p056, lw: 3, ps: 'rectRot', r: 7, bw: 1, eb: {lo: loC056, hi: hiC056, color: rgba(COL.p056, 0.7)}}),
  S(xC058, yC058, {c: COL.p058, lw: 4, ps: 'rectRot', r: 7, open: true, bw: 2, eb: {lo: loC058, hi: hiC058, color: rgba(COL.p058, 0.7)}})
], {
  x: {major: [100, 1000, 10000], minor: logMinors(100, 10000)},
  y: {major: [0.1, 1, 10], minor: logMinors(0.0387, 83.6), labels: [[0.1, L10('\u22121')], [1, L10('0')], [10, L10('1')]], gap: 5},
  over(chart, ctx){
    rich(ctx, [{t: '(c)', f: F(23)}], 550, 39, {});
    rich(ctx, [{t: '\u03a5', f: F(26, SERIF, 'italic')}, {t: '1', f: F(17), dy: 6}, {t: ' = -N', f: F(24)}, {t: '1', f: F(17), dy: 6},
      {t: '/', f: F(24)}, {t: '\u03b7', f: F(26, SERIF, 'italic')}, {t: 'f', f: F(17, SERIF, 'italic'), dy: 6, sp: 2}, {t: '\u03b3\u0307', f: F(26, SERIF, 'italic')}],
      557, 107, {rot: -Math.PI/2, base: 8.5});
    rich(ctx, [{t: '\u03a5', f: F(24, SERIF, 'italic')}, {t: '1,STS', f: F(16), dy: 4}], 941, 70, {align: 'left'});
    // legend
    rich(ctx, [{t: PHI, f: F(26, SERIF, 'italic')}], 1075, 32, {});
    const rowsY = [46.7, 66.2, 85.9, 105.6, 125.3, 145, 164.6, 184.3, 204];
    legendRows.forEach((r, i) => {
      const y = rowsY[i];
      ctx.strokeStyle = r.c; ctx.lineWidth = 3.5; lin(ctx, 1041, y, 1070, y);
      ctx.fillStyle = r.open ? '#fff' : r.c; ctx.strokeStyle = r.c; ctx.lineWidth = r.ps === 'crossRot' ? 2.2 : 1.8;
      Chart.helpers.drawPoint(ctx, {pointStyle: r.ps, radius: r.r, rotation: 0, borderWidth: ctx.lineWidth}, 1055.5, y);
      ctx.fillStyle = '#111'; ctx.font = F(15); ctx.textAlign = 'left'; ctx.textBaseline = 'middle';
      ctx.fillText(phiLabels[i], 1078.6, y + 0.5);
    });
  }
});

// ================= PANEL (d) =================
mk('cD', {l: 608.2, r: 1031.4, t: 265, b: 520}, xLogC, {type: 'linear', min: -1, max: 1.149}, [
  S([100, 10000], [0, 0], {c: '#111', lw: 1.6, dash: [2, 3]}),
  S(xC041, yD041, {c: COL.p041, lw: 3, ps: 'rect', r: 6.5, open: true, bw: 1.8}),
  S(xC034, yD034, {c: COL.p034, lw: 3, ps: 'circle', r: 5, bw: 1}),
  S(xC028, yD028, {c: COL.p028, lw: 3, ps: 'circle', r: 5, open: true, bw: 1.5}),
  S(xD044, yD044, {c: COL.p044, lw: 4, ps: 'rect', r: 7, bw: 1}),
  S(xD, yD049, {c: COL.p049, lw: 2.5, ps: 'crossRot', r: 5, bw: 2, eb: {lo: loD049, hi: hiD049, color: rgba(COL.p049, 0.75)}}),
  S(xD, yD052, {c: COL.p052, lw: 3, ps: 'triangle', r: 5.5, open: true, bw: 1.6, eb: {lo: loD052, hi: hiD052, color: rgba(COL.p052, 0.75)}}),
  S(xD, yD054, {c: COL.p054, lw: 3, ps: 'triangle', r: 6, open: true, bw: 1.8, eb: {lo: loD054, hi: hiD054, color: rgba(COL.p054, 0.7)}}),
  S(xD056, yD056, {c: COL.p056, lw: 3, ps: 'rectRot', r: 7, bw: 1, eb: {lo: loD056, hi: hiD056, color: rgba(COL.p056, 0.7)}}),
  S(xD, yD058, {c: COL.p058, lw: 3, ps: 'rectRot', r: 7, open: true, bw: 2, eb: {lo: loD058, hi: hiD058, color: rgba(COL.p058, 0.65)}})
], {
  x: {major: [100, 1000, 10000], minor: logMinors(100, 10000), labels: [[100, L10('2')], [1000, L10('3')], [10000, L10('4')]], labelY: 537},
  y: {major: [-1, -0.5, 0, 0.5, 1], minor: [-0.75, -0.25, 0.25, 0.75], labels: [[1, '1'], [0.5, '0.5'], [0, '0'], [-0.5, '\u20130.5'], [-1, '\u20131']], gap: 6},
  over(chart, ctx){
    rich(ctx, [{t: '(d)', f: F(23)}], 550, 286, {});
    rich(ctx, [{t: '\u03b1', f: F(26, SERIF, 'italic')}, {t: ' = N', f: F(24)}, {t: '1', f: F(17), dy: 6}, {t: '/', f: F(24)}, {t: '\u03c3', f: F(26, SERIF, 'italic')}],
      557, 380, {rot: -Math.PI/2, base: 8.5});
    rich(ctx, [{t: 'Shear Stress ', f: F(22)}, {t: '\u03c3', f: F(24, SERIF, 'italic')}, {t: ' (Pa)', f: F(22)}], 811, 563, {});
    const xs = chart.scales.x, ys = chart.scales.y;
    const cols = [COL.p058, COL.arrowO, COL.p054];
    sigmaCMarksX.forEach((v, i) => arrowV(ctx, xs.getPixelForValue(v), ys.getPixelForValue(0.83), ys.getPixelForValue(1.09), cols[i], 4, 16, 8));
    rich(ctx, [{t: '\u03c3', f: F(26, SERIF, 'bold italic'), c: COL.p058}, {t: 'c', f: F(19, SERIF, 'bold italic'), dy: 5, c: COL.p058}], 637, 323, {align: 'left'});
  }
});
</script></body></html>
